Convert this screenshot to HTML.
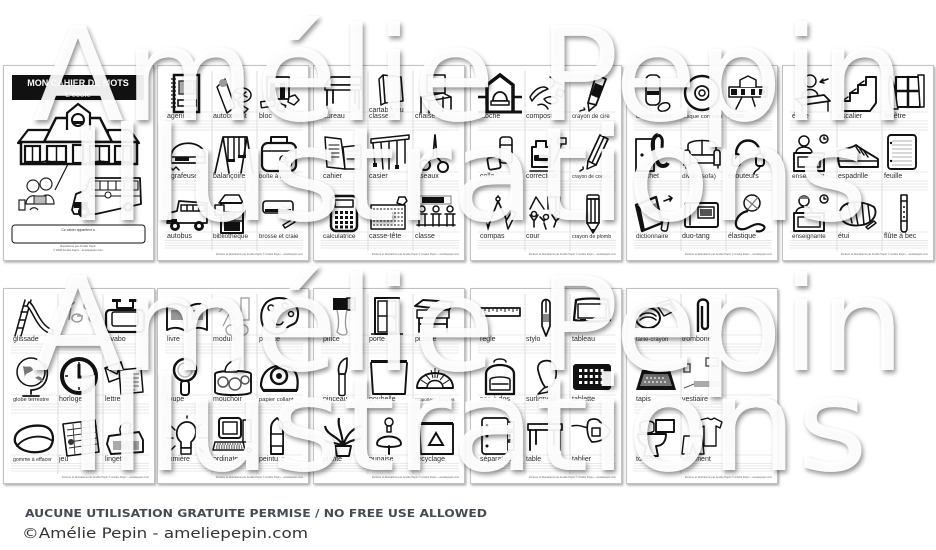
<!DOCTYPE html>
<html><head><meta charset="utf-8">
<style>
html,body{margin:0;padding:0;background:#fff;width:936px;height:550px;overflow:hidden}
svg{display:block}
.s{fill:#fff;stroke:#111;stroke-linejoin:round;stroke-linecap:round}
.t{fill:none;stroke:#111;stroke-linecap:round;stroke-linejoin:round}
.b{fill:#111}
.lb{font-family:"Liberation Sans","DejaVu Sans",sans-serif;fill:#2a2a2a;stroke:none}
.ft{font-family:"Liberation Sans",sans-serif;font-size:2.6px;fill:#666;text-anchor:end;stroke:none}
</style></head><body>
<svg width="936" height="550" viewBox="0 0 936 550" xmlns="http://www.w3.org/2000/svg">
<defs>
<filter id="ps" x="-5%" y="-5%" width="115%" height="115%"><feDropShadow dx="1.2" dy="1.5" stdDeviation="1.2" flood-color="#000" flood-opacity="0.35"/></filter>
<filter id="ws" x="-5%" y="-20%" width="110%" height="150%"><feDropShadow dx="2" dy="3" stdDeviation="2.4" flood-color="#000" flood-opacity="0.45"/></filter>
<g id="tpl">
 <rect x="0.5" y="0.5" width="151" height="195" fill="#fff" stroke="#c2c2c2" stroke-width="1" filter="url(#ps)"/>
 <path d="M55 6V186M100 6V186" stroke="#c8c8c8" stroke-width="0.6"/>
 <path d="M8 47H146M8 56H146M8 59H146M8 62H146M8 65H146M8 107H146M8 116H146M8 119H146M8 122H146M8 125H146M8 167H146M8 175.5H146M8 178H146M8 180.5H146M8 183H146" stroke="#d4d4d4" stroke-width="0.5"/>
</g>
</defs>

<!-- ============ COVER PAGE ============ -->
<rect x="3.5" y="65.5" width="150" height="195" fill="#fff" stroke="#c2c2c2" stroke-width="1" filter="url(#ps)"/>
<rect x="12" y="75" width="132" height="25" fill="#111"/>
<text x="78" y="86" text-anchor="middle" font-family="Liberation Sans, sans-serif" font-weight="bold" font-size="9" fill="#fff">MON CAHIER DE MOTS</text>
<text x="78" y="97" text-anchor="middle" font-family="Liberation Sans, sans-serif" font-weight="bold" font-size="7.5" fill="#fff">L'école</text>
<path d="M18 143 L28 130 L50 130 L50 143Z M108 130 L130 130 L139 143 L108 143Z" fill="#fff" stroke="#111" stroke-width="2.2" stroke-linejoin="round"/>
<path d="M44 142 L56 118 L100 118 L112 142Z" fill="#fff" stroke="#111" stroke-width="2.5" stroke-linejoin="round"/>
<path d="M67 130 L67 113 L78 104 L90 113 L90 130" fill="#fff" stroke="#111" stroke-width="2.2"/>
<circle cx="78" cy="120" r="6" fill="#fff" stroke="#111" stroke-width="2"/>
<path d="M73 121 h10 v3 h-10z" fill="#111"/>
<rect x="21" y="142" width="116" height="22" fill="#fff" stroke="#111" stroke-width="2.5"/>
<g fill="#fff" stroke="#111" stroke-width="2.2">
<rect x="25" y="146" width="15" height="16"/><rect x="47" y="146" width="19" height="16"/><rect x="73" y="145" width="10" height="18"/><rect x="90" y="146" width="19" height="16"/><rect x="115" y="146" width="16" height="16"/>
</g>
<path d="M32.5 146V162M56.5 146V162M99.5 146V162M123 146V162" stroke="#111" stroke-width="1.5"/>
<path d="M40 164 c2 -4 4 -1 6 -3 c2 2 4 -1 6 2 c2 -3 4 0 6 -1 M94 164 c2 -4 4 -1 6 -3 c2 2 4 -1 6 2" fill="none" stroke="#111" stroke-width="2"/>
<path d="M55 190 L68 164" stroke="#111" stroke-width="1.2"/>
<circle cx="33" cy="186" r="6" fill="#fff" stroke="#222" stroke-width="1.2"/>
<circle cx="46" cy="184" r="6" fill="#fff" stroke="#222" stroke-width="1.2"/>
<path d="M26 204 C26 194 40 192 40 204Z M40 204 C40 192 54 192 54 204Z" fill="#fff" stroke="#222" stroke-width="1.2"/>
<rect x="34" y="196" width="12" height="8" fill="#bbb" stroke="#222" stroke-width="1"/>
<path d="M19 200 h6 v10 h-6z M30 210 c2 -3 6 -3 8 0" fill="none" stroke="#222" stroke-width="1.2"/>
<path d="M72 210 L76 194 L86 190 L90 178 L140 178 L141 204 L96 214 L74 214Z" fill="#fff" stroke="#111" stroke-width="1.8" stroke-linejoin="round"/>
<path d="M92 181 H138 V190 H92Z M100 181V190 M108 181V190 M116 181V190 M124 181V190 M132 181V190" fill="none" stroke="#111" stroke-width="1.1"/>
<path d="M74 202 H88 V208 H74Z" fill="#111"/>
<path d="M90 196 H140" stroke="#111" stroke-width="1"/>
<circle cx="108" cy="195" r="3" fill="#fff" stroke="#111"/>
<circle cx="84" cy="212" r="6" fill="#111"/><circle cx="84" cy="212" r="2.5" fill="#fff"/>
<circle cx="128" cy="207" r="5" fill="#111"/><circle cx="128" cy="207" r="2" fill="#fff"/>
<rect x="12" y="225" width="133" height="18" rx="3" fill="#fff" stroke="#111" stroke-width="1"/>
<text x="78" y="231" text-anchor="middle" font-family="Liberation Sans, sans-serif" font-size="3.4" fill="#333">Ce cahier appartient à</text>
<text x="78" y="247" text-anchor="middle" font-family="Liberation Sans, sans-serif" font-size="2.8" fill="#555">Illustrations par Amélie Pepin</text>
<text x="78" y="251" text-anchor="middle" font-family="Liberation Sans, sans-serif" font-size="2.8" fill="#555">© 2020 Amélie Pepin · ameliepepin.com</text>

<!-- ============ T2 ============ -->
<g transform="translate(157,65)" stroke-width="1.5" font-size="7">
<use href="#tpl"/>
<g transform="translate(8,8)"><rect x="9" y="2" width="25" height="37" fill="#fff" stroke="#111" stroke-width="2.5"/><path d="M6 6h5M6 10h5M6 14h5M6 18h5M6 22h5M6 26h5M6 30h5M6 34h5" stroke="#111" stroke-width="1.2"/><rect x="14" y="8" width="16" height="13" fill="#aaa" stroke="#333"/><rect x="13" y="27" width="18" height="6" fill="#fff" stroke="#111" stroke-width="1.6"/></g>
<g transform="translate(54,8)"><path class="s" d="M6 14 L14 6 L24 34 L16 40 Z"/><ellipse class="s" cx="31" cy="22" rx="9" ry="7"/><path class="t" d="M25 19 l11 5 M27 26 l8 -7"/><path class="s" d="M27 30 l10 6 l-4 4 z"/><circle cx="12" cy="10" r="4" fill="#999"/></g>
<g transform="translate(100,8)"><rect class="s" x="10" y="4" width="22" height="22" stroke-width="1.8"/><rect class="b" x="13" y="10" width="5" height="16"/><rect class="b" x="23" y="10" width="5" height="16"/><rect class="s" x="4" y="28" width="14" height="6" transform="rotate(-8 10 31)"/><path class="s" d="M32 24 l6 -2 l4 5 l-5 5 l-6 -3z"/><rect class="s" x="21" y="31" width="7" height="7" transform="rotate(20 24 34)"/></g>
<g transform="translate(8,68)"><path class="s" d="M6 24 C6 6 38 6 40 22 L40 30 L6 30 Z" stroke-width="1.8"/><path class="t" d="M6 24 H40"/><rect class="b" x="10" y="24" width="14" height="4"/><path class="t" d="M5 34 l3 3 l3 -3 l3 3"/></g>
<g transform="translate(54,68)"><path class="t" d="M4 40 L12 4 L36 4 L42 40 M12 4 L18 40 M36 4 L30 40" stroke-width="1.7"/><path class="t" d="M17 4 V26 M23 4 V26 M28 4 V22 M34 4 V22"/><rect class="b" x="16" y="26" width="8" height="3"/><rect class="b" x="27" y="22" width="8" height="3"/></g>
<g transform="translate(100,68)"><rect class="s" x="5" y="10" width="34" height="28" rx="6" stroke-width="2.2"/><path class="t" d="M14 10 V4 H30 V10" stroke-width="2"/><path class="t" d="M5 18 H39" stroke-width="1.6"/><circle class="t" cx="26" cy="26" r="3"/><circle class="t" cx="32" cy="31" r="2.5"/></g>
<g transform="translate(8,128)"><path class="s" d="M2 30 L4 20 L12 18 L14 8 L42 10 L42 30 Z" stroke-width="1.7"/><path class="t" d="M16 12 H40 V18 H16 Z M22 12 V18 M28 12 V18 M34 12 V18"/><rect class="b" x="2" y="26" width="10" height="3"/><circle class="b" cx="10" cy="33" r="5"/><circle class="b" cx="34" cy="33" r="5"/><circle cx="10" cy="33" r="2" fill="#fff"/><circle cx="34" cy="33" r="2" fill="#fff"/></g>
<g transform="translate(54,128)"><path class="s" d="M8 10 l6 -8 h14 l4 8z"/><rect class="s" x="10" y="10" width="22" height="30" stroke-width="2"/><rect class="b" x="13" y="29" width="16" height="9"/><path class="t" d="M10 19 H32 M10 28 H32"/><rect x="13" y="20" width="12" height="7" fill="#888"/><rect class="s" x="4" y="12" width="9" height="10"/></g>
<g transform="translate(100,128)"><rect class="s" x="6" y="8" width="30" height="12" rx="3" stroke-width="1.6"/><path class="b" d="M8 16 h26 v3 h-26z"/><path class="s" d="M26 32 l10 -6 l2 3 l-10 6z"/></g>
<text class="lb" x="10" y="53">agenda</text><text class="lb" x="56" y="53">autocollant</text><text class="lb" x="102" y="53">bloc</text>
<text class="lb" x="10" y="113">agrafeuse</text><text class="lb" x="56" y="113">balançoire</text><text class="lb" x="102" y="113" font-size="6.3">boîte à lunch</text>
<text class="lb" x="10" y="173">autobus</text><text class="lb" x="56" y="173" font-size="6.5">bibliothèque</text><text class="lb" x="102" y="173" font-size="6">brosse et craie</text>
<text class="ft" x="146" y="190">Écriture et illustrations par Amélie Pepin © Amélie Pepin – ameliepepin.com</text>
</g>

<!-- ============ T3 ============ -->
<g transform="translate(313,65)" stroke-width="1.5" font-size="7">
<use href="#tpl"/>
<g transform="translate(8,8)"><path class="s" d="M4 12 L10 4 L40 4 L40 12 Z" stroke-width="1.7"/><rect class="s" x="4" y="12" width="36" height="5"/><path class="t" d="M6 17 V36 M38 17 V36 M12 17 V30 M34 17 V30" stroke-width="1.8"/></g>
<g transform="translate(54,8)"><path class="s" d="M16 2 L34 4 L36 28 L18 30 Z" stroke-width="1.6"/><path class="s" d="M12 6 L16 2 L18 30 L14 32 Z"/></g>
<g transform="translate(100,8)"><path class="s" d="M14 2 L32 2 L32 20 L14 20 Z" stroke-width="1.6"/><path class="s" d="M8 24 L30 20 L38 24 L16 28 Z"/><path class="t" d="M8 24 V40 M16 28 V40 M30 24 V38 M38 24 V36" stroke-width="1.6"/></g>
<g transform="translate(8,68)"><path class="s" d="M4 4 L20 6 L24 36 L6 34Z"/><path class="s" d="M22 14 L40 12 L40 36 L24 36Z"/><path class="t" d="M8 12 h10 M8 16 h10 M8 20 h10 M8 24 h10 M26 18 h12 M26 22 h12 M26 26 h12" stroke-width="1.1"/></g>
<g transform="translate(54,68)"><path class="s" d="M4 6 L42 2 L42 6 L4 10Z"/><path class="t" d="M6 10 L8 32 M14 10 L16 36 M22 9 L22 36 M30 8 L30 34 M38 7 L38 30"/><path class="b" d="M6 30 h4 v4 h-4z M28 32 h4 v4 h-4z"/></g>
<g transform="translate(100,68)"><path class="t" d="M22 2 L20 24 L14 30 M22 2 L24 24 L30 31" stroke-width="1.8"/><circle class="s" cx="12" cy="32" r="5" stroke-width="2"/><circle class="s" cx="30" cy="34" r="5" stroke-width="2"/></g>
<g transform="translate(8,128)"><rect class="s" x="10" y="3" width="26" height="35" rx="5" stroke-width="2.5"/><rect class="s" x="14" y="7" width="18" height="7"/><path d="M14 19.5h18M14 24.5h18M14 29.5h18M14 34h18" stroke="#111" stroke-width="3" stroke-dasharray="3 2"/></g>
<g transform="translate(54,128)"><rect class="s" x="4" y="12" width="34" height="24"/><path d="M6 16h30M6 20h30M6 24h30M6 28h30M6 32h30" stroke="#444" stroke-width="1.2" stroke-dasharray="2 1.5"/><path class="s" d="M32 4 l6 0 l2 4 l-4 4 l-6 -2z"/></g>
<g transform="translate(100,128)"><rect x="4" y="3" width="34" height="8" fill="#fff" stroke="#555" stroke-width="0.8"/><rect class="b" x="9" y="4" width="22" height="6"/><path class="t" d="M4 21 h10 M18 21 h10 M32 21 h10 M6 21 v12 M12 21 v12 M20 21 v12 M26 21 v12 M34 21 v12 M40 21 v12 M4 32 h38"/><circle class="s" cx="9" cy="16" r="3"/><circle class="s" cx="23" cy="16" r="3"/><circle class="s" cx="37" cy="16" r="3"/></g>
<text class="lb" x="10" y="53">bureau</text><text class="lb" x="56" y="47">cartable ou</text><text class="lb" x="56" y="53">classeur</text><text class="lb" x="102" y="53">chaise</text>
<text class="lb" x="10" y="113">cahier</text><text class="lb" x="56" y="113">casier</text><text class="lb" x="102" y="113">ciseaux</text>
<text class="lb" x="10" y="173" font-size="6.5">calculatrice</text><text class="lb" x="56" y="173">casse-tête</text><text class="lb" x="102" y="173">classe</text>
<text class="ft" x="146" y="190">Écriture et illustrations par Amélie Pepin © Amélie Pepin – ameliepepin.com</text>
</g>

<!-- ============ T4 ============ -->
<g transform="translate(470,65)" stroke-width="1.5" font-size="7">
<use href="#tpl"/>
<g transform="translate(8,8)"><path d="M9 40 V12 L22 2 L35 12 V40" fill="#fff" stroke="#111" stroke-width="3.5"/><path d="M0 24 H9 M35 24 H44" stroke="#111" stroke-width="2.5"/><path d="M0 39 H44" stroke="#111" stroke-width="3"/><path class="s" d="M15 28 C15 16 29 16 29 28 Z" stroke-width="1.8"/><rect class="s" x="13" y="28" width="18" height="4"/></g>
<g transform="translate(54,8)"><path class="s" d="M6 24 C12 14 20 12 24 16 C18 18 12 22 8 28Z"/><path class="s" d="M20 26 c6 -4 14 -2 14 2 c-4 4 -10 4 -14 -2z"/><path class="t" d="M26 4 c4 2 6 6 2 10 M30 8 l8 4"/><path class="s" d="M34 16 l6 2 l-2 6 l-6 -2z"/><path class="t" d="M14 32 c4 -2 8 0 10 4"/></g>
<g transform="translate(100,8)"><path class="s" d="M26 2 L36 6 L26 32 L18 30 Z" stroke-width="1.8"/><path class="b" d="M25 10 l8 3 l-5 12 l-7 -3z"/><path class="s" d="M18 30 L19 38 L26 32Z"/><path class="t" d="M10 38 c4 -2 6 0 4 -3"/></g>
<g transform="translate(8,68)"><rect class="s" x="22" y="4" width="12" height="26" rx="3" stroke-width="1.6"/><rect class="s" x="10" y="24" width="12" height="12" rx="2" stroke-width="1.8" transform="rotate(-10 16 30)"/><path class="t" d="M22 12 h12"/></g>
<g transform="translate(54,68)"><path class="s" d="M8 14 h4 v-6 h10 v6 h4 v20 h-18 z" stroke-width="2"/><rect class="b" x="10" y="22" width="14" height="6" rx="1"/><path class="t" d="M30 30 L38 10"/><rect class="s" x="34" y="5" width="8" height="6"/><path class="t" d="M6 38 h24"/></g>
<g transform="translate(100,68)"><path class="s" d="M30 2 L38 6 L26 32 L18 28Z" stroke-width="1.7"/><path class="s" d="M18 28 L17 36 L26 32Z"/><path class="t" d="M34 4 L22 30"/><path class="t" d="M10 38 c2 -2 4 -1 3 -4"/></g>
<g transform="translate(8,128)"><path class="t" d="M20 3 V8 M20 8 L10 34 M20 8 L30 30" stroke-width="1.7"/><circle class="s" cx="20" cy="6" r="2"/><path class="s" d="M28 28 l6 -10 l4 2 l-6 12 l-2 4z"/><path class="b" d="M8 30 l4 2 l-2 6z"/></g>
<g transform="translate(54,128)"><path class="t" d="M6 16 L12 4 L20 16 M24 4 V16 M32 4 V16 M24 4 H36 V16"/><path class="t" d="M6 22 l4 6 l4 -6 M10 28 v6 M16 24 l4 4 l4 -6 M28 22 l4 6 l4 -4 M32 28 l-2 6 M20 30 l2 6" stroke-width="1.6"/><circle class="s" cx="10" cy="21" r="2.5"/><circle class="s" cx="22" cy="24" r="2.5"/><circle class="s" cx="33" cy="20" r="2.5"/></g>
<g transform="translate(100,128)"><rect class="s" x="17" y="2" width="12" height="4" rx="1.5"/><rect class="s" x="17" y="6" width="12" height="24" stroke-width="1.7"/><path class="s" d="M17 30 L23 40 L29 30Z"/><path class="b" d="M21 36 L23 40 L25 36Z"/><path class="t" d="M21 6 V30 M25 6 V30"/></g>
<text class="lb" x="10" y="53">cloche</text><text class="lb" x="56" y="53">compost</text><text class="lb" x="102" y="53" font-size="6">crayon de cire</text>
<text class="lb" x="10" y="113">colle</text><text class="lb" x="56" y="113">correcteur</text><text class="lb" x="102" y="113" font-size="5">crayon de couleur</text>
<text class="lb" x="10" y="173">compas</text><text class="lb" x="56" y="173">cour</text><text class="lb" x="102" y="173" font-size="5.3">crayon de plomb</text>
<text class="ft" x="146" y="190">Écriture et illustrations par Amélie Pepin © Amélie Pepin – ameliepepin.com</text>
</g>

<!-- ============ T5 ============ -->
<g transform="translate(626,65)" stroke-width="1.5" font-size="7">
<use href="#tpl"/>
<g transform="translate(8,8)"><rect class="s" x="12" y="2" width="14" height="30" rx="5" stroke-width="1.6"/><rect class="b" x="13" y="18" width="12" height="4"/><ellipse class="s" cx="30" cy="34" rx="6" ry="4" transform="rotate(-20 30 34)"/></g>
<g transform="translate(54,8)"><circle class="s" cx="22" cy="20" r="17" stroke-width="2.4"/><circle class="s" cx="22" cy="20" r="7" stroke-width="1.8"/><circle class="s" cx="22" cy="20" r="3"/></g>
<g transform="translate(100,8)"><path class="s" d="M3 14 H41 V24 H3Z"/><path class="s" d="M14 14 V7 L22 3 L30 7 V14"/><path d="M5 16 h6 v6 h-6z M15 16 h4 v6 h-4z M25 16 h4 v6 h-4z M33 16 h6 v6 h-6z" fill="#111"/><path class="t" d="M16 24 L10 36 M26 24 L30 36"/></g>
<g transform="translate(8,68)"><rect class="s" x="2" y="6" width="18" height="32" stroke-width="1.8"/><circle cx="8" cy="22" r="1.6" fill="#111"/><path d="M24 2 C16 4 18 20 24 30 C26 34 32 34 34 30" fill="none" stroke="#111" stroke-width="4"/><path d="M24 2 C30 4 28 10 28 16" fill="none" stroke="#111" stroke-width="3"/></g>
<g transform="translate(54,68)"><path class="s" d="M8 12 C8 6 36 6 36 12 V22 H8Z" stroke-width="1.6"/><path class="s" d="M4 20 C4 16 10 16 10 20 V32 H4Z M34 20 C34 16 40 16 40 20 V32 H34Z" stroke-width="1.6"/><rect class="s" x="10" y="22" width="24" height="8"/><path class="t" d="M22 8 V22 M6 32 v3 M38 32 v3"/></g>
<g transform="translate(100,68)"><path d="M10 24 C8 2 36 2 34 24" fill="none" stroke="#111" stroke-width="2.5"/><rect class="s" x="6" y="21" width="8" height="12" rx="3" stroke-width="2"/><rect class="s" x="30" y="21" width="8" height="12" rx="3" stroke-width="2"/><path class="t" d="M34 33 c0 4 -6 4 -6 8"/></g>
<g transform="translate(8,128)"><path class="s" d="M2 12 L22 4 L28 30 L8 38Z" stroke-width="2.3"/><path class="b" d="M3 13 L8 38 L11 37 L6 12Z"/><path d="M10 14 L22 10 L24 18 L12 22Z" fill="#888"/><path class="t" d="M30 8 L38 5 M38 5 l-3 -2 M38 5 l-2 3" stroke-width="1.6"/><rect class="s" x="28" y="26" width="6" height="12" rx="2" transform="rotate(10 31 32)"/></g>
<g transform="translate(54,128)"><rect class="s" x="5" y="10" width="33" height="24" rx="2" stroke-width="1.9"/><rect class="s" x="18" y="14" width="16" height="11"/><path d="M20 16 h12 v7 h-12z" fill="#555"/><path class="t" d="M10 12 v20"/></g>
<g transform="translate(100,128)"><circle class="s" cx="26" cy="10" r="8"/><path d="M20 6 l12 10 M22 16 l10 -12" stroke="#777" stroke-width="1.2"/><path d="M22 18 C10 20 6 34 14 36 C22 38 28 28 36 32 C42 34 36 40 30 38" fill="none" stroke="#111" stroke-width="2.2"/></g>
<text class="lb" x="10" y="53" font-size="6">crayon-feutre</text><text class="lb" x="56" y="53" font-size="5.8">disque compact</text><text class="lb" x="102" y="53">école</text>
<text class="lb" x="10" y="113">crochet</text><text class="lb" x="56" y="113" font-size="6.5">divan (sofa)</text><text class="lb" x="102" y="113">écouteurs</text>
<text class="lb" x="10" y="173" font-size="6.3">dictionnaire</text><text class="lb" x="56" y="173">duo-tang</text><text class="lb" x="102" y="173">élastique</text>
<text class="ft" x="146" y="190">Écriture et illustrations par Amélie Pepin © Amélie Pepin – ameliepepin.com</text>
</g>

<!-- ============ T6 ============ -->
<g transform="translate(782,65)" stroke-width="1.5" font-size="7">
<use href="#tpl"/>
<g transform="translate(8,8)"><circle class="s" cx="20" cy="8" r="6"/><path class="s" d="M12 24 C12 14 28 14 28 24Z"/><path class="s" d="M6 26 L34 22 L40 28 L12 32Z" stroke-width="1.8"/><path class="t" d="M12 32 V40 M38 28 V38"/><path class="t" d="M30 9 L38 6 M30 9 l3 -3 M30 9 l4 1" stroke-width="1.5"/></g>
<g transform="translate(54,8)"><path class="s" d="M6 38 V28 H14 V20 H22 V12 H30 V4 H40 V30 L34 38Z" stroke-width="1.9"/><path class="t" d="M6 28 L12 24 M14 20 L20 16 M22 12 L28 8"/></g>
<g transform="translate(100,8)"><rect class="s" x="14" y="4" width="24" height="30" stroke-width="2"/><path class="t" d="M26 4 V34 M14 18 H38" stroke-width="2.5"/><path class="s" d="M8 2 C14 10 14 30 16 36 H10 C6 28 6 12 8 2Z"/><path class="s" d="M36 2 L42 2 L42 34 L38 34Z"/></g>
<g transform="translate(8,68)"><circle class="s" cx="14" cy="8" r="5"/><path class="s" d="M6 20 C6 12 22 12 22 20Z"/><rect class="s" x="4" y="20" width="30" height="18" stroke-width="1.9"/><rect class="s" x="8" y="24" width="22" height="10"/><circle class="s" cx="34" cy="6" r="4"/><path class="t" d="M34 4 v2 h2"/></g>
<g transform="translate(54,68)"><path class="s" d="M2 18 C6 16 14 16 20 12 C28 18 36 22 42 26 V34 H4 C2 30 2 24 2 18Z" stroke-width="1.9"/><path class="t" d="M2 28 H42 M20 14 l4 6 M24 16 l4 6 M28 18 l4 6"/></g>
<g transform="translate(100,68)"><rect class="s" x="6" y="2" width="28" height="34" rx="3" stroke-width="1.9"/><path d="M10 8 h20 M10 12 h20 M10 16 h20 M10 20 h20 M10 24 h20 M10 28 h20 M10 32 h20" stroke="#999" stroke-width="0.7"/><circle cx="9" cy="10" r="1.2" fill="#111"/><circle cx="9" cy="28" r="1.2" fill="#111"/></g>
<g transform="translate(8,128)"><circle class="s" cx="14" cy="8" r="5"/><path d="M9 6 c2 -4 8 -4 10 0" fill="#777"/><path class="s" d="M6 20 C6 12 22 12 22 20Z"/><rect class="s" x="4" y="20" width="30" height="18" stroke-width="1.9"/><rect class="s" x="8" y="24" width="22" height="10"/><circle class="s" cx="34" cy="6" r="4"/><path class="t" d="M34 4 v2 h2"/></g>
<g transform="translate(54,128)"><path class="s" d="M4 20 C4 8 24 6 38 14 C42 20 38 30 26 32 C14 34 4 30 4 20Z" stroke-width="1.9"/><path class="t" d="M12 12 L16 30 M18 10 L22 32 M26 10 L28 32 M32 12 L34 28"/><path class="s" d="M30 34 l8 -6 l2 2 l-8 6z"/></g>
<g transform="translate(100,128)"><path class="s" d="M19 2 h6 v34 c0 4 -6 4 -6 0z" stroke-width="1.6"/><path class="t" d="M19 8 h6 M19 28 h6"/><circle cx="22" cy="14" r="1" fill="#111"/><circle cx="22" cy="19" r="1" fill="#111"/><circle cx="22" cy="24" r="1" fill="#111"/></g>
<text class="lb" x="10" y="53">élève</text><text class="lb" x="56" y="53">escalier</text><text class="lb" x="102" y="53">fenêtre</text>
<text class="lb" x="10" y="113" font-size="6.6">enseignant</text><text class="lb" x="56" y="113">espadrille</text><text class="lb" x="102" y="113">feuille</text>
<text class="lb" x="10" y="173" font-size="6.2">enseignante</text><text class="lb" x="56" y="173">étui</text><text class="lb" x="102" y="173">flûte à bec</text>
<text class="ft" x="146" y="190">Écriture et illustrations par Amélie Pepin © Amélie Pepin – ameliepepin.com</text>
</g>

<!-- ============ B1 ============ -->
<g transform="translate(3,288)" stroke-width="1.5" font-size="7">
<use href="#tpl"/>
<g transform="translate(8,8)"><path class="t" d="M4 40 L14 4 M10 40 L20 4 M6 32 h6 M8 24 h6 M10 16 h6 M12 10 h6" stroke-width="1.5"/><path class="s" d="M18 6 C24 8 28 30 42 34 V38 C26 36 22 14 16 10Z"/></g>
<g transform="translate(54,8)"><path d="M10 12 l8 -6 M14 12 l-2 12 M20 20 l6 0" stroke="#888" stroke-width="1.2"/><ellipse cx="20" cy="22" rx="5" ry="4" fill="none" stroke="#999"/><circle cx="36" cy="22" r="4" fill="none" stroke="#aaa"/><circle cx="30" cy="10" r="3" fill="none" stroke="#aaa"/></g>
<g transform="translate(100,8)"><rect class="s" x="3" y="14" width="38" height="22" rx="4" stroke-width="2.3"/><rect class="s" x="9" y="16" width="26" height="14" rx="2"/><path class="t" d="M14 4 v8 h16 v-8" stroke-width="2"/><path class="b" d="M9 3 h9 v3 h-9z M26 3 h9 v3 h-9z"/></g>
<g transform="translate(8,68)"><circle class="s" cx="20" cy="16" r="14"/><path d="M12 10 c4 2 8 -2 10 4 c-4 4 -8 2 -8 8 M24 22 c4 -4 8 0 8 4" fill="#777"/><path class="t" d="M34 8 C40 20 34 34 20 34 M20 34 V38 M12 40 H28" stroke-width="1.8"/></g>
<g transform="translate(54,68)"><circle cx="22" cy="20" r="17" fill="#fff" stroke="#111" stroke-width="4"/><path d="M22 6 V9 M22 31 V34 M8 20 H11 M33 20 H36" stroke="#111" stroke-width="1.5"/><path d="M22 8 V21 H33" fill="none" stroke="#111" stroke-width="3"/></g>
<g transform="translate(100,68)"><path class="s" d="M2 12 L18 6 L22 20 L6 26Z"/><path class="t" d="M2 12 L14 18 L18 6"/><path class="s" d="M16 14 L38 12 L40 36 L18 38Z"/><path d="M20 18 h16 M20 22 h16 M20 26 h16 M20 30 h16 M20 34 h12" stroke="#333" stroke-width="0.8"/></g>
<g transform="translate(8,128)"><path class="s" d="M4 26 C2 14 18 8 32 10 C42 12 44 22 40 30 C36 38 10 40 4 26Z" stroke-width="2.3"/><path class="t" d="M6 30 C14 20 30 18 40 24" stroke-width="1.8"/></g>
<g transform="translate(54,128)"><path class="s" d="M6 8 L38 4 L42 36 L10 40Z" stroke-width="1.6"/><path d="M10 14 L40 10 M10 20 L40 16 M12 26 L40 22 M12 32 L40 28 M16 8 L18 40 M24 6 L26 40 M32 6 L34 38" stroke="#333" stroke-width="0.9"/><circle cx="14" cy="26" r="3" fill="#333"/></g>
<g transform="translate(100,128)"><path class="s" d="M6 20 L36 16 L40 24 L40 36 L8 38 L4 28Z" stroke-width="1.9"/><path class="s" d="M18 18 C14 10 22 4 28 8 C26 12 28 16 24 18Z"/><path d="M10 25 h26 v9 h-26z" fill="#aaa"/></g>
<text class="lb" x="10" y="53">glissade</text><text class="lb" x="56" y="53" style="fill:#aaa">gymnase</text><text class="lb" x="102" y="53">lavabo</text>
<text class="lb" x="10" y="113" font-size="5.6">globe terrestre</text><text class="lb" x="56" y="113">horloge</text><text class="lb" x="102" y="113">lettre</text>
<text class="lb" x="10" y="173" font-size="5.2">gomme à effacer</text><text class="lb" x="56" y="173">jeu</text><text class="lb" x="102" y="173">lingette</text>
<text class="ft" x="146" y="190">Écriture et illustrations par Amélie Pepin © Amélie Pepin – ameliepepin.com</text>
</g>

<!-- ============ B2 ============ -->
<g transform="translate(157,288)" stroke-width="1.5" font-size="7">
<use href="#tpl"/>
<g transform="translate(8,8)"><path class="s" d="M2 10 C10 6 16 8 22 12 C28 8 34 6 42 10 V34 C34 30 28 32 22 36 C16 32 10 30 2 34Z" stroke-width="1.9"/><path class="t" d="M22 12 V36"/><rect x="6" y="14" width="12" height="10" fill="#999"/><rect x="26" y="14" width="12" height="10" fill="#999"/></g>
<g transform="translate(54,8)"><path d="M30 2 h8 v22 h-8z M12 30 l6 -12 l6 6 M8 16 l4 -4" fill="none" stroke="#999" stroke-width="1.2"/><circle cx="20" cy="34" r="5" fill="none" stroke="#aaa"/><circle cx="32" cy="34" r="5" fill="none" stroke="#aaa"/></g>
<g transform="translate(100,8)"><path class="s" d="M22 2 C36 2 44 12 40 24 C38 30 32 28 30 32 C28 38 20 40 12 36 C2 30 2 14 10 6 C14 3 18 2 22 2Z" stroke-width="2"/><path class="t" d="M16 24 c2 6 8 6 10 2"/><circle class="s" cx="14" cy="12" r="3"/><circle class="s" cx="28" cy="10" r="3"/><circle class="s" cx="34" cy="18" r="2.5"/></g>
<g transform="translate(8,68)"><circle class="s" cx="20" cy="14" r="11" stroke-width="2.5"/><circle cx="20" cy="14" r="7" fill="none" stroke="#bbb"/><rect class="s" x="16" y="25" width="8" height="14" rx="3" stroke-width="2"/></g>
<g transform="translate(54,68)"><path class="s" d="M4 18 C4 14 40 14 40 18 V36 C40 40 4 40 4 36Z" stroke-width="1.9"/><path class="s" d="M14 16 C14 6 24 4 30 2 C28 8 30 12 26 16Z"/><circle cx="12" cy="26" r="5" fill="none" stroke="#555"/><circle cx="24" cy="28" r="6" fill="none" stroke="#555"/><circle cx="34" cy="24" r="4" fill="none" stroke="#555"/></g>
<g transform="translate(100,68)"><path class="s" d="M4 30 C4 16 14 8 28 10 C40 12 42 22 40 34 H6Z" stroke-width="2.2"/><circle class="s" cx="22" cy="20" r="8" stroke-width="2.5"/><circle cx="22" cy="20" r="3" fill="#111"/><path d="M6 33 H40 V36 H6Z" fill="#111"/></g>
<g transform="translate(8,128)"><path class="s" d="M16 26 C8 20 12 6 22 6 C32 6 34 20 26 26 V32 H16Z" stroke-width="1.7"/><rect class="s" x="16" y="32" width="10" height="6"/><path class="t" d="M6 10 L10 14 M22 0 V2 M36 8 L32 12 M2 22 H8 M34 22 H42 M6 34 L10 30 M34 32 L38 36"/></g>
<g transform="translate(54,128)"><rect class="s" x="8" y="2" width="22" height="20" rx="3" stroke-width="2"/><rect class="s" x="12" y="6" width="14" height="12"/><rect class="s" x="32" y="4" width="8" height="22"/><path class="s" d="M4 26 H32 L34 34 H2Z"/><path d="M6 28 h24 M5 30 h26 M5 32 h27" stroke="#111" stroke-width="0.9" stroke-dasharray="1.5 1"/><circle class="s" cx="38" cy="34" r="2"/></g>
<g transform="translate(100,128)"><path class="s" d="M14 12 C14 6 18 4 20 2 C22 4 26 6 26 12 V38 H14Z" stroke-width="1.9"/><rect class="s" x="14" y="18" width="12" height="12"/><path d="M26 8 C30 4 36 6 34 10" fill="none" stroke="#888" stroke-width="1.2"/></g>
<text class="lb" x="10" y="53">livre</text><text class="lb" x="56" y="53">module</text><text class="lb" x="102" y="53">palette</text>
<text class="lb" x="10" y="113">loupe</text><text class="lb" x="56" y="113">mouchoir</text><text class="lb" x="102" y="113" font-size="5.8">papier collant</text>
<text class="lb" x="10" y="173">lumière</text><text class="lb" x="56" y="173">ordinateur</text><text class="lb" x="102" y="173">peinture</text>
<text class="ft" x="146" y="190">Écriture et illustrations par Amélie Pepin © Amélie Pepin – ameliepepin.com</text>
</g>

<!-- ============ B3 ============ -->
<g transform="translate(313,288)" stroke-width="1.5" font-size="7">
<use href="#tpl"/>
<g transform="translate(8,8)"><rect class="b" x="12" y="2" width="14" height="12"/><rect x="26" y="2" width="8" height="12" fill="#bbb" stroke="#111"/><path d="M16 14 C18 22 18 30 16 36 C20 40 26 40 26 36 C24 30 24 22 26 14" fill="none" stroke="#999" stroke-width="1.3"/></g>
<g transform="translate(54,8)"><rect class="s" x="8" y="2" width="24" height="36" stroke-width="2"/><rect class="s" x="11" y="5" width="18" height="31"/><path class="t" d="M20 5 V36 M11 20 H29"/><circle cx="27" cy="22" r="1.3" fill="#111"/><path d="M4 38 H36" stroke="#111" stroke-width="1.5"/></g>
<g transform="translate(100,8)"><path class="s" d="M2 10 L10 4 L40 6 L36 14 Z" stroke-width="1.9"/><rect class="s" x="4" y="14" width="32" height="8"/><path class="t" d="M6 22 V36 M34 22 V36 M6 28 H34" stroke-width="1.8"/></g>
<g transform="translate(8,68)"><path class="s" d="M18 18 h6 V38 c0 2 -6 2 -6 0 Z"/><path class="s" d="M18 18 C16 10 20 4 26 2 C26 8 26 14 24 18Z" stroke-width="1.7"/></g>
<g transform="translate(54,68)"><rect class="b" x="4" y="4" width="36" height="3"/><path class="s" d="M4 7 L6 38 H38 L40 7" stroke-width="1.9"/></g>
<g transform="translate(100,68)"><path class="s" d="M4 32 C4 12 40 12 40 32Z" stroke-width="1.9"/><path class="s" d="M14 32 C14 22 30 22 30 32Z"/><path d="M8 24 L14 28 M12 18 L17 24 M18 14 L20 22 M22 12 V22 M26 14 L24 22 M32 18 L27 24 M36 24 L30 28" stroke="#111" stroke-width="1"/></g>
<g transform="translate(8,128)"><path class="s" d="M14 30 H30 L28 40 H16Z" stroke-width="1.9"/><path d="M22 30 C18 20 6 20 4 10 M22 30 C22 18 16 10 18 2 M22 30 C26 16 34 12 40 10 M22 30 C28 24 36 24 40 22 M22 30 C16 26 8 28 4 24" fill="none" stroke="#111" stroke-width="2.2"/></g>
<g transform="translate(54,128)"><circle class="s" cx="22" cy="6" r="4"/><path class="s" d="M20 10 h4 v6 h-4z"/><path class="s" d="M10 28 C10 18 34 18 34 28 C34 32 10 32 10 28Z" stroke-width="1.9"/><path class="t" d="M22 30 V38" stroke-width="2"/></g>
<g transform="translate(100,128)"><path class="s" d="M6 8 H40 V38 H8Z" stroke-width="1.9"/><rect class="b" x="6" y="6" width="34" height="3"/><path d="M16 29 l7 -12 l7 12z" fill="none" stroke="#111" stroke-width="2"/></g>
<text class="lb" x="10" y="53">pince</text><text class="lb" x="56" y="53">porte</text><text class="lb" x="102" y="53">pupitre</text>
<text class="lb" x="10" y="113">pinceau</text><text class="lb" x="56" y="113">poubelle</text><text class="lb" x="102" y="113" font-size="4.6">rapporteur d'angles</text>
<text class="lb" x="10" y="173">plante</text><text class="lb" x="56" y="173">punaise</text><text class="lb" x="102" y="173">recyclage</text>
<text class="ft" x="146" y="190">Écriture et illustrations par Amélie Pepin © Amélie Pepin – ameliepepin.com</text>
</g>

<!-- ============ B4 ============ -->
<g transform="translate(470,288)" stroke-width="1.5" font-size="7">
<use href="#tpl"/>
<g transform="translate(8,8)"><rect class="s" x="3" y="12" width="39" height="8" stroke-width="1.7"/><path d="M7 12 v3 M11 12 v4 M15 12 v3 M19 12 v4 M23 12 v3 M27 12 v4 M31 12 v3 M35 12 v4 M39 12 v3" stroke="#111" stroke-width="1"/></g>
<g transform="translate(54,8)"><path class="s" d="M18 8 C18 2 26 2 26 8 V30 L22 40 L18 30Z" stroke-width="1.7"/><path class="t" d="M22 4 V16"/><rect x="19" y="18" width="6" height="8" fill="#888"/></g>
<g transform="translate(100,8)"><path class="s" d="M6 4 C14 2 30 2 38 4 L40 24 C30 26 14 26 4 24Z" stroke-width="2.3"/><path class="s" d="M8 8 H36 V22 H8Z"/><path d="M10 24 h6" stroke="#111" stroke-width="2"/></g>
<g transform="translate(8,68)"><path class="s" d="M8 18 C8 6 36 6 36 18 V38 H8Z" stroke-width="2.3"/><path class="s" d="M12 24 C12 20 32 20 32 24 V34 H12Z"/><path class="t" d="M16 6 C16 2 28 2 28 6"/><path class="t" d="M14 28 H30"/></g>
<g transform="translate(54,68)"><path class="s" d="M14 14 C12 4 26 2 30 8 C34 16 32 24 28 30 L22 32 C18 28 16 22 14 14Z" stroke-width="1.7"/><path class="s" d="M20 32 L26 30 L24 36 L14 38Z"/></g>
<g transform="translate(100,68)"><rect class="b" x="3" y="8" width="38" height="26" rx="3"/><path d="M9 14.5 h27 M9 20.5 h27 M9 26.5 h27" stroke="#fff" stroke-width="3" stroke-dasharray="3 2.4"/></g>
<g transform="translate(8,128)"><rect class="s" x="4" y="2" width="26" height="36" rx="3" stroke-width="1.7"/><path class="s" d="M30 6 h6 v8 h-6 M30 16 h6 v8 h-6 M30 26 h6 v8 h-6"/><circle cx="9" cy="10" r="1.5" fill="#111"/><circle cx="9" cy="20" r="1.5" fill="#111"/><circle cx="9" cy="30" r="1.5" fill="#111"/></g>
<g transform="translate(54,128)"><rect class="s" x="4" y="8" width="34" height="6" stroke-width="1.7"/><path class="t" d="M6 14 V34 M36 14 V34 M12 14 V28 M30 14 V28" stroke-width="1.9"/></g>
<g transform="translate(100,128)"><path class="t" d="M2 10 C10 8 14 12 20 12"/><path class="s" d="M18 6 C20 2 28 2 30 6 C34 8 40 12 40 16 C38 22 30 26 22 26 C18 22 16 14 18 6Z" stroke-width="1.7"/><path class="s" d="M22 12 h8 v8 h-8z"/></g>
<text class="lb" x="10" y="53">règle</text><text class="lb" x="56" y="53">stylo</text><text class="lb" x="102" y="53">tableau</text>
<text class="lb" x="10" y="113">sac à dos</text><text class="lb" x="56" y="113">surligneur</text><text class="lb" x="102" y="113">tablette</text>
<text class="lb" x="10" y="173">séparateur</text><text class="lb" x="56" y="173">table</text><text class="lb" x="102" y="173">tablier</text>
<text class="ft" x="146" y="190">Écriture et illustrations par Amélie Pepin © Amélie Pepin – ameliepepin.com</text>
</g>

<!-- ============ B5 ============ -->
<g transform="translate(626,288)" stroke-width="1.5" font-size="7">
<use href="#tpl"/>
<g transform="translate(8,8)"><ellipse class="s" cx="14" cy="22" rx="12" ry="10" stroke-width="2"/><path class="t" d="M6 20 C10 16 18 16 22 20 M6 24 C10 20 18 20 22 24"/><path class="s" d="M22 8 L36 4 L42 14 L30 20Z"/><path d="M26 10 l10 -2 l3 5" stroke="#111" stroke-width="2" fill="none"/></g>
<g transform="translate(54,8)"><path d="M18 36 V8 C18 2 28 2 28 8 V30 C28 34 22 34 22 30 V10" fill="none" stroke="#111" stroke-width="2.4"/></g>
<g transform="translate(8,68)"><path d="M8 14 L36 14 L42 34 L2 34Z" fill="#111"/><path d="M10 18 L34 18 L38 30 L6 30Z" fill="#777"/><path d="M12 22 L32 22 M10 26 L34 26" stroke="#ddd" stroke-width="1.5" stroke-dasharray="2 2"/></g>
<g transform="translate(54,68)"><rect x="26" y="2" width="12" height="8" fill="none" stroke="#555"/><rect x="4" y="8" width="6" height="8" fill="none" stroke="#555"/><path d="M4 32 L14 28 H40 M14 26 H40 M14 30 H40" stroke="#555" stroke-width="1" fill="none"/></g>
<g transform="translate(8,128)"><path class="s" d="M22 4 H40 V16 H22Z" stroke-width="1.9"/><path class="s" d="M4 18 H32 C32 26 28 30 22 30 L24 40 H10 L12 30 C6 28 4 24 4 18Z" stroke-width="1.9"/><path class="s" d="M6 8 C6 4 20 4 20 8 V14 C20 18 6 18 6 14Z"/></g>
<g transform="translate(54,128)"><path class="s" d="M20 4 L28 2 C30 4 32 4 34 2 L42 6 L40 12 L36 10 V30 H24 V10 L20 12Z" stroke-width="1.4"/><path class="s" d="M4 20 H22 L24 38 H16 L13 28 L10 38 H2Z" stroke-width="1.4"/></g>
<text class="lb" x="10" y="53" font-size="6">taille-crayon</text><text class="lb" x="56" y="53">trombone</text>
<text class="lb" x="10" y="113">tapis</text><text class="lb" x="56" y="113">vestiaire</text>
<text class="lb" x="10" y="173">toilette</text><text class="lb" x="56" y="173">vêtement</text>
<text class="ft" x="146" y="190">Écriture et illustrations par Amélie Pepin © Amélie Pepin – ameliepepin.com</text>
</g>

<!-- ============ WATERMARK ============ -->
<g filter="url(#ws)" fill="#fff" fill-opacity="0.9" font-family="DejaVu Sans, sans-serif" font-size="130">
<text x="32" y="120" textLength="873" lengthAdjust="spacingAndGlyphs">Amélie Pepin</text>
<text x="68" y="220" textLength="800" lengthAdjust="spacingAndGlyphs">Illustrations</text>
<text x="32" y="370" textLength="873" lengthAdjust="spacingAndGlyphs">Amélie Pepin</text>
<text x="68" y="470" textLength="800" lengthAdjust="spacingAndGlyphs">Illustrations</text>
</g>

<!-- ============ FOOTER ============ -->
<text x="25" y="517" font-family="DejaVu Sans, Liberation Sans, sans-serif" font-weight="bold" font-size="10.5" fill="#434b54" textLength="462" lengthAdjust="spacingAndGlyphs">AUCUNE UTILISATION GRATUITE PERMISE / NO FREE USE ALLOWED</text>
<text x="22" y="538" font-family="DejaVu Sans, Liberation Sans, sans-serif" font-size="14.5" fill="#333" textLength="286" lengthAdjust="spacingAndGlyphs">©Amélie Pepin - ameliepepin.com</text>
</svg>
</body></html>
